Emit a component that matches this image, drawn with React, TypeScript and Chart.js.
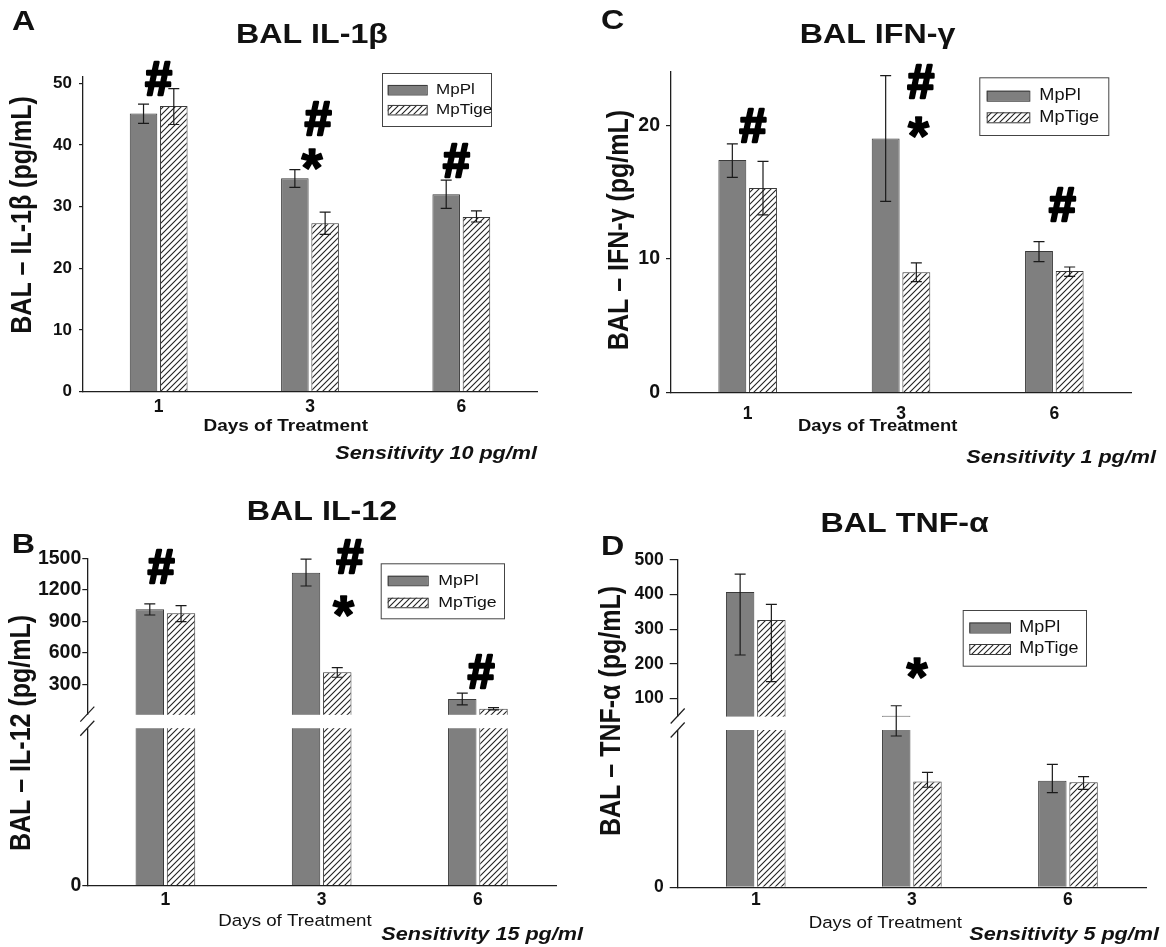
import React, { useEffect, useRef } from 'react';
import { Chart, registerables, LinearScale } from 'chart.js';

// ---------------- data ----------------
const days = ['1', '3', '6'];
const seriesNames = ['MpPl', 'MpTige'];

// A: BAL IL-1β (pg/mL)
const il1bPl = [45.1, 34.6, 32.0];
const il1bPlLow = [43.5, 33.1, 29.7];
const il1bPlHigh = [46.6, 36.0, 34.3];
const il1bTige = [46.3, 27.3, 28.3];
const il1bTigeLow = [43.3, 25.5, 27.5];
const il1bTigeHigh = [49.1, 29.1, 29.3];
const il1bTicks = [0, 10, 20, 30, 40, 50];

// B: BAL IL-12 (pg/mL), broken axis
const il12Pl = [1014, 1363, 161];
const il12PlLow = [960, 1236, 104];
const il12PlHigh = [1065, 1493, 215];
const il12Tige = [976, 415, 68];
const il12TigeLow = [896, 367, 56];
const il12TigeHigh = [1049, 459, 78];
const il12Ticks = [0, 300, 600, 900, 1200, 1500];

// C: BAL IFN-γ (pg/mL)
const ifngPl = [17.4, 19.0, 10.6];
const ifngPlLow = [16.1, 14.3, 9.8];
const ifngPlHigh = [18.6, 23.7, 11.3];
const ifngTige = [15.3, 9.0, 9.1];
const ifngTigeLow = [13.3, 8.3, 8.7];
const ifngTigeHigh = [17.3, 9.7, 9.4];
const ifngTicks = [0, 10, 20];

// D: BAL TNF-α (pg/mL), broken axis
const tnfPl = [408, 50.8, 33.9];
const tnfPlLow = [226, 48.1, 30.1];
const tnfPlHigh = [459, 79.6, 39.1];
const tnfTige = [327, 33.6, 33.4];
const tnfTigeLow = [149, 31.8, 31.1];
const tnfTigeHigh = [372, 36.5, 35.2];
const tnfTicks = [0, 100, 200, 300, 400, 500];

// significance marks (category index, offset as share of category, value)
const marksA = [
  { day: 0, dx: 0.0, y: 50.8, text: '#' },
  { day: 1, dx: 0.053, y: 44.2, text: '#' },
  { day: 1, dx: 0.013, y: 37.7, text: '*' },
  { day: 2, dx: -0.033, y: 37.4, text: '#' },
];
const marksB = [
  { day: 0, dx: -0.028, y: 1420, text: '#' },
  { day: 1, dx: 0.18, y: 1515, text: '#' },
  { day: 1, dx: 0.14, y: 1039, text: '*' },
  { day: 2, dx: 0.02, y: 420, text: '#' },
];
const marksC = [
  { day: 0, dx: 0.033, y: 20.0, text: '#' },
  { day: 1, dx: 0.13, y: 23.3, text: '#' },
  { day: 1, dx: 0.114, y: 19.8, text: '*' },
  { day: 2, dx: 0.052, y: 14.1, text: '#' },
];
const marksD = [{ day: 1, dx: 0.033, y: 187.6, text: '*' }];

// ---------------- styles ----------------
const W = 1166;
const H = 947;
const FONT = '"Liberation Sans", Arial, Helvetica, sans-serif';
const SX = 1.15;
const AXIS = '#1e1e1e';
const TEXT = '#111';
const PL_FILL = '#7f7f7f';
const BAR_EDGE = '#3a3a3a';
const Y_W = 60;
const X_H = 30;

class BrokenLinearScale extends LinearScale {
  static id = 'brokenLinear';
  seg() {
    const o: any = this.options;
    const h = this.bottom - this.top;
    const lowH = h * o.lowerFraction;
    const gapH = h * o.gapFraction;
    return { brk: o.breakValue as number, lowH, gapH, upH: h - lowH - gapH };
  }
  getPixelForValue(value: number) {
    const { brk, lowH, gapH, upH } = this.seg();
    if (value <= brk) return this.bottom - ((value - this.min) / (brk - this.min)) * lowH;
    return this.bottom - lowH - gapH - ((value - brk) / (this.max - brk)) * upH;
  }
  getValueForPixel(pixel: number) {
    const { brk, lowH, gapH, upH } = this.seg();
    const d = this.bottom - pixel;
    if (d <= lowH) return this.min + (d / lowH) * (brk - this.min);
    if (d <= lowH + gapH) return brk;
    return brk + ((d - lowH - gapH) / upH) * (this.max - brk);
  }
}

Chart.register(...registerables, BrokenLinearScale);

const panels = [
  {
    id: 'A',
    letter: 'A',
    title: 'BAL IL-1β',
    yTitle: 'BAL – IL-1β (pg/mL)',
    xTitle: 'Days of Treatment',
    note: 'Sensitivity 10 pg/ml',
    series: [
      { values: il1bPl, low: il1bPlLow, high: il1bPlHigh },
      { values: il1bTige, low: il1bTigeLow, high: il1bTigeHigh },
    ],
    yMax: 51,
    yTicks: il1bTicks,
    brk: null as any,
    marks: marksA,
    L: {
      area: { left: 83, right: 537, top: 77, bottom: 391.7 },
      yTick: { len: 4, pad: 7, size: 17 },
      xTick: { pad: 4.6, size: 17.5 },
      title: { x: 312, y: 43 },
      letter: { x: 12, y: 30 },
      yTitle: { x: 23.3, y: 215 },
      xTitle: { x: 285.7, y: 430.5, bold: true, size: 16.5 },
      note: { x: 537, y: 459 },
      legend: { x: 382, y: 73, w: 109, h: 53, swX: 387.7, swW: 39, swH: 9.5, textX: 436, rows: [89.7, 109.7], size: 14.8 },
    },
  },
  {
    id: 'B',
    letter: 'B',
    title: 'BAL IL-12',
    yTitle: 'BAL – IL-12 (pg/mL)',
    xTitle: 'Days of Treatment',
    note: 'Sensitivity 15 pg/ml',
    series: [
      { values: il12Pl, low: il12PlLow, high: il12PlHigh },
      { values: il12Tige, low: il12TigeLow, high: il12TigeHigh },
    ],
    yMax: 1500,
    yTicks: il12Ticks,
    brk: { value: 15, lowerFraction: 0.481, gapFraction: 0.0428 },
    marks: marksB,
    L: {
      area: { left: 87.3, right: 556, top: 558.3, bottom: 885.7 },
      yTick: { len: 5, pad: 1, size: 19.5 },
      xTick: { pad: 4.3, size: 17.5 },
      title: { x: 322, y: 520 },
      letter: { x: 11.7, y: 553 },
      yTitle: { x: 21.7, y: 733 },
      xTitle: { x: 295, y: 926, bold: false, size: 16.3 },
      note: { x: 583, y: 940 },
      legend: { x: 380.7, y: 563.3, w: 123.3, h: 55, swX: 387.7, swW: 40, swH: 9.5, textX: 438.3, rows: [580.5, 602.5], size: 15.4 },
    },
  },
  {
    id: 'C',
    letter: 'C',
    title: 'BAL IFN-γ',
    yTitle: 'BAL – IFN-γ (pg/mL)',
    xTitle: 'Days of Treatment',
    note: 'Sensitivity 1 pg/ml',
    series: [
      { values: ifngPl, low: ifngPlLow, high: ifngPlHigh },
      { values: ifngTige, low: ifngTigeLow, high: ifngTigeHigh },
    ],
    yMax: 24,
    yTicks: ifngTicks,
    brk: null as any,
    marks: marksC,
    L: {
      area: { left: 671, right: 1131, top: 71.7, bottom: 392.7 },
      yTick: { len: 5, pad: 6, size: 19.5 },
      xTick: { pad: 10.6, size: 17.5 },
      title: { x: 877.5, y: 43 },
      letter: { x: 601, y: 29 },
      yTitle: { x: 620, y: 230 },
      xTitle: { x: 877.7, y: 431, bold: true, size: 16 },
      note: { x: 1156, y: 463 },
      legend: { x: 979.3, y: 77.3, w: 129, h: 57.7, swX: 986.7, swW: 42.6, swH: 10, textX: 1039.3, rows: [95.7, 117.3], size: 15.8 },
    },
  },
  {
    id: 'D',
    letter: 'D',
    title: 'BAL TNF-α',
    yTitle: 'BAL – TNF-α (pg/mL)',
    xTitle: 'Days of Treatment',
    note: 'Sensitivity 5 pg/ml',
    series: [
      { values: tnfPl, low: tnfPlLow, high: tnfPlHigh },
      { values: tnfTige, low: tnfTigeLow, high: tnfTigeHigh },
    ],
    yMax: 500,
    yTicks: tnfTicks,
    brk: { value: 50, lowerFraction: 0.4806, gapFraction: 0.0428 },
    marks: marksD,
    L: {
      area: { left: 677.7, right: 1146, top: 560, bottom: 887.3 },
      yTick: { len: 8, pad: 6, size: 17.5 },
      xTick: { pad: 2.6, size: 17.5 },
      title: { x: 904.7, y: 531.5 },
      letter: { x: 601, y: 555 },
      yTitle: { x: 612, y: 711 },
      xTitle: { x: 885.3, y: 928, bold: false, size: 16.3 },
      note: { x: 1159, y: 940 },
      legend: { x: 962.7, y: 610, w: 123.3, h: 55.7, swX: 969.3, swW: 40.7, swH: 10, textX: 1019.3, rows: [627.5, 649], size: 15.6 },
    },
  },
];

function makeHatch(): any {
  const c = document.createElement('canvas');
  const s = 6;
  c.width = s;
  c.height = s;
  const g = c.getContext('2d')!;
  g.fillStyle = '#fff';
  g.fillRect(0, 0, s, s);
  g.strokeStyle = '#222';
  g.lineWidth = 1.1;
  g.beginPath();
  g.moveTo(0, s);
  g.lineTo(s, 0);
  g.moveTo(-s / 2, s / 2);
  g.lineTo(s / 2, -s / 2);
  g.moveTo(s / 2, s * 1.5);
  g.lineTo(s * 1.5, s / 2);
  g.stroke();
  return g.createPattern(c, 'repeat');
}

function txt(ctx: CanvasRenderingContext2D, s: string, x: number, y: number, font: string, align: CanvasTextAlign, sx: number, baseline: CanvasTextBaseline = 'alphabetic') {
  ctx.save();
  ctx.font = font;
  ctx.fillStyle = TEXT;
  ctx.textAlign = align;
  ctx.textBaseline = baseline;
  ctx.translate(x, y);
  ctx.scale(sx, 1);
  ctx.fillText(s, 0, 0);
  ctx.restore();
}

function vtxt(ctx: CanvasRenderingContext2D, s: string, x: number, y: number, font: string, sx: number) {
  ctx.save();
  ctx.font = font;
  ctx.fillStyle = TEXT;
  ctx.textAlign = 'center';
  ctx.textBaseline = 'middle';
  ctx.translate(x, y);
  ctx.rotate(-Math.PI / 2);
  ctx.scale(1, sx);
  ctx.fillText(s, 0, 0);
  ctx.restore();
}

function makeDeco(p: any) {
  return {
    id: 'deco' + p.id,
    afterDatasetsDraw(chart: any) {
      const ctx: CanvasRenderingContext2D = chart.ctx;
      const ys = chart.scales.y;
      const area = chart.chartArea;
      if (p.brk) {
        const h = ys.bottom - ys.top;
        const lowH = h * p.brk.lowerFraction;
        const gapH = h * p.brk.gapFraction;
        const g1 = ys.bottom - lowH - gapH;
        const g2 = ys.bottom - lowH;
        ctx.save();
        ctx.fillStyle = '#fff';
        ctx.fillRect(area.left - 3, g1 + 0.6, area.right - area.left + 3, g2 - g1 - 0.6);
        ctx.strokeStyle = AXIS;
        ctx.lineWidth = 1.2;
        for (const gy of [g1, g2]) {
          ctx.beginPath();
          ctx.moveTo(area.left - 7, gy + 7.5);
          ctx.lineTo(area.left + 7, gy - 7.5);
          ctx.stroke();
        }
        ctx.restore();
      }
      // error bars
      ctx.save();
      ctx.strokeStyle = '#1a1a1a';
      ctx.lineWidth = 1.2;
      chart.data.datasets.forEach((ds: any, i: number) => {
        const meta = chart.getDatasetMeta(i);
        meta.data.forEach((bar: any, j: number) => {
          const x = bar.x;
          const lo = ys.getPixelForValue(ds.errLow[j]);
          const hi = ys.getPixelForValue(ds.errHigh[j]);
          const cw = 5.5;
          ctx.beginPath();
          ctx.moveTo(x, lo);
          ctx.lineTo(x, hi);
          ctx.moveTo(x - cw, hi);
          ctx.lineTo(x + cw, hi);
          ctx.moveTo(x - cw, lo);
          ctx.lineTo(x + cw, lo);
          ctx.stroke();
        });
      });
      ctx.restore();
    },
    afterDraw(chart: any) {
      const ctx: CanvasRenderingContext2D = chart.ctx;
      const L = p.L;
      txt(ctx, p.letter, L.letter.x, L.letter.y, `bold 28px ${FONT}`, 'left', SX);
      txt(ctx, p.title, L.title.x, L.title.y, `bold 28px ${FONT}`, 'center', SX);
      vtxt(ctx, p.yTitle, L.yTitle.x, L.yTitle.y, `bold 25px ${FONT}`, SX);
      txt(ctx, p.xTitle, L.xTitle.x, L.xTitle.y, `${L.xTitle.bold ? 'bold ' : ''}${L.xTitle.size}px ${FONT}`, 'center', SX);
      txt(ctx, p.note, L.note.x, L.note.y, `italic bold 18.8px ${FONT}`, 'right', SX);

      // legend
      const lg = L.legend;
      ctx.save();
      ctx.strokeStyle = '#444';
      ctx.lineWidth = 1;
      ctx.fillStyle = '#fff';
      ctx.fillRect(lg.x, lg.y, lg.w, lg.h);
      ctx.strokeRect(lg.x + 0.5, lg.y + 0.5, lg.w, lg.h);
      chart.data.datasets.forEach((ds: any, i: number) => {
        const ry = lg.rows[i];
        ctx.fillStyle = ds.backgroundColor;
        ctx.fillRect(lg.swX, ry - lg.swH / 2, lg.swW, lg.swH);
        ctx.strokeStyle = BAR_EDGE;
        ctx.strokeRect(lg.swX + 0.5, ry - lg.swH / 2 + 0.5, lg.swW, lg.swH);
        txt(ctx, ds.label, lg.textX, ry, `${lg.size}px ${FONT}`, 'left', SX, 'middle');
      });
      ctx.restore();

      // significance marks
      const xs = chart.scales.x;
      const ys = chart.scales.y;
      const cat = (xs.right - xs.left) / days.length;
      p.marks.forEach((m: any) => {
        const px = xs.getPixelForValue(m.day) + m.dx * cat;
        const py = ys.getPixelForValue(m.y);
        const isHash = m.text === '#';
        const size = isHash ? 48 : 54;
        ctx.save();
        ctx.font = `bold ${size}px ${FONT}`;
        ctx.fillStyle = '#000';
        ctx.strokeStyle = '#000';
        ctx.lineWidth = isHash ? 2.6 : 1.6;
        ctx.lineJoin = 'round';
        ctx.textAlign = 'center';
        ctx.textBaseline = 'alphabetic';
        const mt = ctx.measureText(m.text);
        const by = py + (mt.actualBoundingBoxAscent - mt.actualBoundingBoxDescent) / 2;
        ctx.fillText(m.text, px, by);
        ctx.strokeText(m.text, px, by);
        ctx.restore();
      });
    },
  };
}

function buildConfig(p: any, hatch: any): any {
  const L = p.L;
  const datasets = p.series.map((s: any, i: number) => ({
    label: seriesNames[i],
    data: s.values,
    errLow: s.low,
    errHigh: s.high,
    backgroundColor: i === 0 ? PL_FILL : hatch,
    borderColor: BAR_EDGE,
    borderWidth: 1,
    categoryPercentage: 0.4,
    barPercentage: 0.91,
  }));
  const yScale: any = {
    type: p.brk ? 'brokenLinear' : 'linear',
    min: 0,
    max: p.yMax,
    afterBuildTicks: (s: any) => {
      s.ticks = p.yTicks.map((v: number) => ({ value: v }));
    },
    afterFit: (s: any) => {
      s.width = Y_W;
    },
    grid: { display: true, drawOnChartArea: false, drawTicks: true, tickLength: L.yTick.len, color: AXIS, lineWidth: 1.2 },
    border: { display: true, color: AXIS, width: 1.3 },
    ticks: {
      autoSkip: false,
      padding: L.yTick.pad,
      color: TEXT,
      font: { family: FONT, size: L.yTick.size, weight: 'bold' },
      callback: (v: any) => String(v),
    },
  };
  if (p.brk) {
    yScale.breakValue = p.brk.value;
    yScale.lowerFraction = p.brk.lowerFraction;
    yScale.gapFraction = p.brk.gapFraction;
  }
  return {
    type: 'bar',
    data: { labels: days, datasets },
    options: {
      responsive: false,
      animation: false,
      events: [],
      layout: {
        padding: {
          left: L.area.left - Y_W,
          right: W - L.area.right,
          top: L.area.top,
          bottom: H - L.area.bottom - X_H,
        },
      },
      plugins: { legend: { display: false }, title: { display: false }, tooltip: { enabled: false } },
      scales: {
        x: {
          type: 'category',
          offset: true,
          afterFit: (s: any) => {
            s.height = X_H;
          },
          grid: { display: true, drawOnChartArea: false, drawTicks: false },
          border: { display: true, color: AXIS, width: 1.3 },
          ticks: { padding: L.xTick.pad, color: TEXT, font: { family: FONT, size: L.xTick.size, weight: 'bold' } },
        },
        y: yScale,
      },
    },
    plugins: [makeDeco(p)],
  };
}

export default function App() {
  const refs = useRef<(HTMLCanvasElement | null)[]>([]);
  useEffect(() => {
    const hatch = makeHatch();
    const charts = panels.map((p, k) => new Chart(refs.current[k] as HTMLCanvasElement, buildConfig(p, hatch)));
    return () => charts.forEach((c) => c.destroy());
  }, []);
  return (
    <div style={{ position: 'absolute', left: 0, top: 0, width: W, height: H, background: '#fff' }}>
      {panels.map((p, k) => (
        <canvas
          key={p.id}
          ref={(el) => {
            refs.current[k] = el;
          }}
          width={W}
          height={H}
          style={{ position: 'absolute', left: 0, top: 0, width: W, height: H }}
        />
      ))}
    </div>
  );
}
